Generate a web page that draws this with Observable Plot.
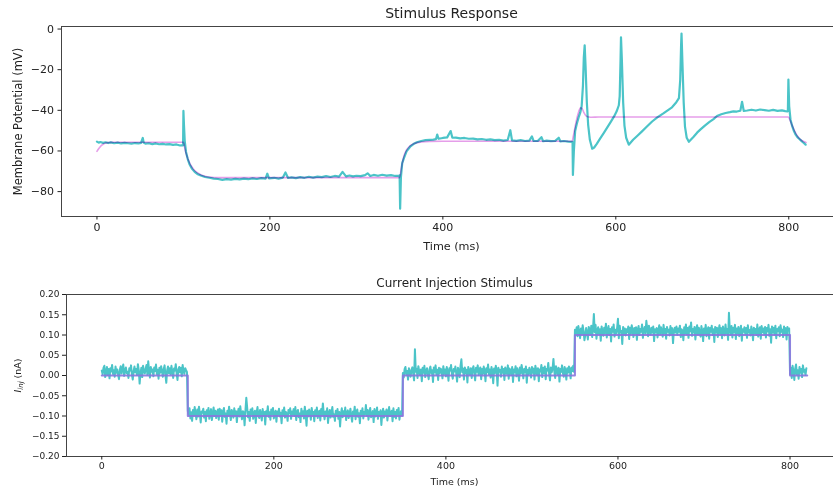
<!DOCTYPE html>
<html><head><meta charset="utf-8">
<script src="https://cdn.jsdelivr.net/npm/d3@7"></script>
<script src="https://cdn.jsdelivr.net/npm/@observablehq/plot@0.6"></script>
<style>
html,body{margin:0;padding:0;background:#fff;overflow:hidden;width:833px;height:494px;}
#wrap{position:relative;width:833px;height:494px;overflow:hidden;background:#fff;}
#top{position:absolute;left:0;top:0;width:850px;height:260px;}
#bot{position:absolute;left:0;top:260px;width:850px;height:234px;}
svg{max-width:none !important;}
</style></head>
<body><div id="wrap"><div id="top"></div><div id="bot"></div></div>
<script>
// ---------- Recorded membrane potential (ms, mV), by epoch ----------
const tRec1 = [0,2,4,7,10,13,16,20,24,28,32,36,40,44,48,51,53,54,56,60,64,68,72,76,80,84,88,92,96,99];
const vRec1 = [-55.4,-55.9,-55.6,-56.0,-55.7,-56.1,-55.8,-56.2,-55.9,-56.3,-56.0,-56.2,-56.4,-56.1,-56.3,-56.0,-53.6,-55.9,-56.4,-56.2,-56.6,-56.3,-56.7,-56.5,-56.8,-56.6,-57.0,-56.8,-57.3,-57.1];
const tRec2 = [99.6,100,100.6,101.5,103,105,107,110,113,116,120,125,130,135];
const vRec2 = [-57.2,-40.3,-47.0,-55.0,-60.5,-64.0,-66.5,-68.8,-70.3,-71.3,-72.1,-72.8,-73.2,-73.6];
const tRec3 = [140,145,150,155,160,165,170,175,180,185,190,195,197,199,205,210,215,218,221,225,230,235,240,245,250,255,260,265,270,275,280,284,288,292,296,300,305,310,313,316,320,325,330,335,340,345,349.5];
const vRec3 = [-73.8,-74.2,-73.9,-74.1,-73.7,-74.0,-73.6,-73.9,-73.5,-73.8,-73.4,-73.6,-71.2,-73.5,-73.2,-73.6,-73.1,-70.6,-73.3,-73.0,-73.4,-72.9,-73.2,-72.7,-73.1,-72.6,-72.9,-72.4,-72.8,-72.3,-72.6,-70.3,-72.5,-72.1,-72.5,-72.2,-72.4,-71.9,-71.0,-72.3,-71.8,-72.2,-71.7,-72.1,-71.9,-72.3,-72.1];
const tRec4 = [350,350.6,351.5,353,355,358,362.6,366,370,375,380,385,389,392,393.5,395,400,405,409,411,415,420,425,430,435,440,445,450,455,460,465,470,475,478,480,485,490,495,500,503,505,510,514,516,520,525,530,534,536,540,545,549.5];
const vRec4 = [-72.0,-88.4,-73.0,-66.0,-63.5,-60.2,-57.7,-56.6,-55.7,-55.1,-54.7,-54.5,-54.4,-54.2,-51.9,-54.0,-53.6,-53.3,-50.2,-53.5,-53.4,-53.8,-53.6,-54.0,-53.9,-54.3,-54.1,-54.5,-54.3,-54.7,-54.5,-54.9,-54.6,-49.8,-54.8,-55.0,-54.7,-55.1,-54.9,-52.8,-55.1,-55.0,-53.2,-55.2,-54.9,-55.2,-55.0,-53.5,-55.3,-55.1,-55.4,-55.5];
const tRec5 = [550,550.4,551.5,553,555,557,559,560.5,562,563,564,565,566.5,568,570,572.7,575,578,582,586,590,594,598,601,603.5,604.5,605.5,606,607,608.5,610,612,615,620,625,630,636,642,648,655,660,665,670,673,674.5,675.5,676,677,678.5,680,682,684.5,690,694,698,703,708,713,717,722,727,732,736,740,744,746,748,752,757,762,767,772,777,782,787,792,796,798.5];
const vRec5 = [-55.6,-71.8,-60.0,-50.2,-46.5,-43.5,-41.0,-38.0,-28.0,-14.0,-8.0,-18.0,-36.0,-47.0,-54.5,-58.9,-58.3,-56.5,-53.8,-51.2,-48.5,-45.8,-43.0,-40.5,-37.5,-33.0,-15.0,-4.1,-15.0,-36.0,-47.5,-53.5,-56.9,-54.5,-52.5,-50.5,-48.0,-45.5,-43.5,-41.5,-40.0,-38.5,-36.0,-34.0,-25.0,-8.0,-2.2,-16.0,-36.0,-48.0,-53.5,-55.5,-53.0,-51.0,-49.4,-47.5,-45.8,-44.3,-42.8,-41.9,-41.3,-40.9,-40.5,-40.6,-40.2,-35.8,-40.3,-40.1,-39.7,-40.1,-39.6,-39.9,-40.2,-39.8,-40.3,-40.0,-40.4,-40.5];
const tRec6 = [799,799.6,800.5,802,804,806,808,810,812,814,816,818,819.5];
const vRec6 = [-40.3,-24.9,-38.0,-44.5,-47.8,-50.2,-52.0,-53.2,-54.0,-54.8,-55.6,-56.3,-56.9];

// ---------- Model membrane potential (ms, mV) ----------
const tModel = [0,2,4,6,8,10,12,15,20,100,102,104,106,108,110,113,116,120,125,130,140,350,352,355,358,362,368,375,385,400,549.5,551,553,555,557,559,561,563,565,567,569,572,580,799.5,802,804,806,808,810,812,814,816,818,820];
const vModel = [-60.2,-58.9,-57.8,-57.0,-56.5,-56.1,-55.9,-55.8,-55.7,-55.7,-59.5,-62.5,-64.8,-66.6,-68.0,-69.6,-70.7,-71.7,-72.4,-72.8,-73.1,-73.1,-68.5,-62.5,-59.5,-57.5,-56.2,-55.6,-55.3,-55.2,-55.2,-52.5,-48,-44,-40.8,-38.7,-39.2,-41,-42.4,-43.1,-43.3,-43.4,-43.3,-43.3,-45.5,-47.5,-49.5,-51.2,-52.6,-53.7,-54.5,-55.1,-55.5,-55.8];

// ---------- Stimulus: command steps (ms, nA) ----------
const stimT = [0,100,350,550,800,820];
const stimI = [0,-0.1,0,0.1,0,0];

// ---------- Injected (noisy) current, one sample per ms from 0 to 819 ms (nA) ----------
const noiseStepMs = 1;
const iNoisy = [
 // 0-99 ms
 .012,.003,.019,.024,-.004,.008,.021,.001,.016,-.007,
 .018,.010,.026,.004,.013,-.003,.022,.007,.015,.002,
 -.009,.014,.023,.005,.017,.027,-.001,.011,.020,.006,
 .009,-.006,.018,.012,.025,.003,-.010,.011,.022,.008,
 .016,.001,.028,.013,-.020,.006,.019,-.004,.024,.010,
 .005,.017,.026,.002,.035,.012,-.005,.021,.009,.015,
 -.002,.020,.011,.027,.004,.014,-.008,.019,.007,.023,
 .010,-.003,.016,.025,.001,-.018,.013,.022,.006,.018,
 .003,.024,.009,-.006,.017,.012,.028,.005,-.011,.015,
 .021,.008,.019,-.002,.026,.011,.004,.018,.013,.009,
 // 100-349 ms
 -.088,-.097,-.081,-.106,-.091,-.112,-.085,-.099,-.078,-.094,
 -.108,-.084,-.101,-.077,-.095,-.116,-.089,-.092,-.082,-.104,
 -.090,-.113,-.086,-.098,-.080,-.107,-.093,-.083,-.110,-.095,
 -.079,-.100,-.087,-.105,-.092,-.084,-.109,-.082,-.097,-.086,
 -.114,-.090,-.080,-.102,-.094,-.119,-.087,-.099,-.077,-.096,
 -.110,-.085,-.091,-.104,-.081,-.098,-.088,-.115,-.093,-.082,
 -.101,-.076,-.095,-.108,-.088,-.091,-.123,-.086,-.055,-.079,
 -.103,-.090,-.112,-.084,-.096,-.081,-.107,-.093,-.087,-.117,
 -.092,-.078,-.099,-.105,-.085,-.094,-.111,-.083,-.098,-.090,
 -.121,-.088,-.096,-.076,-.102,-.091,-.109,-.084,-.095,-.080,
 -.106,-.093,-.087,-.114,-.089,-.097,-.082,-.101,-.092,-.118,
 -.086,-.098,-.079,-.104,-.090,-.095,-.112,-.085,-.093,-.081,
 -.107,-.089,-.096,-.083,-.100,-.078,-.110,-.091,-.085,-.103,
 -.094,-.115,-.082,-.099,-.088,-.106,-.077,-.096,-.124,-.087,
 -.101,-.084,-.093,-.109,-.080,-.097,-.090,-.113,-.086,-.099,
 -.079,-.105,-.092,-.087,-.111,-.083,-.098,-.069,-.094,-.108,
 -.089,-.100,-.081,-.117,-.093,-.085,-.104,-.091,-.078,-.102,
 -.096,-.112,-.087,-.099,-.083,-.107,-.090,-.126,-.094,-.081,
 -.103,-.088,-.097,-.079,-.110,-.092,-.086,-.105,-.095,-.082,
 -.100,-.114,-.089,-.096,-.077,-.108,-.091,-.084,-.102,-.093,
 -.118,-.087,-.098,-.081,-.106,-.090,-.095,-.073,-.099,-.085,
 -.109,-.092,-.080,-.103,-.096,-.088,-.115,-.083,-.101,-.094,
 -.079,-.107,-.090,-.098,-.086,-.122,-.093,-.082,-.104,-.089,
 -.097,-.084,-.111,-.092,-.078,-.100,-.095,-.087,-.113,-.081,
 -.102,-.090,-.106,-.085,-.096,-.080,-.109,-.093,-.088,-.099,
 // 350-549 ms
 .006,-.005,.016,.021,.002,.011,-.010,.018,.008,-.003,
 .014,.020,.004,-.012,.065,.009,.017,-.006,.023,.010,
 .001,.015,-.014,.019,.007,.024,-.004,.012,.018,.003,
 -.009,.016,.022,.005,.013,-.016,.020,.008,.025,.002,
 .014,-.011,.019,.006,.017,.011,-.007,.023,.004,.015,
 -.002,.021,.009,-.013,.018,.012,.026,.003,-.008,.016,
 .010,.022,.005,-.015,.019,.013,-.004,.024,.040,.008,
 .017,-.010,.020,.006,.014,-.017,.021,.011,.002,.018,
 -.006,.015,.023,.007,-.012,.019,.009,.025,.001,.013,
 .020,-.009,.016,.004,.022,.012,-.014,.018,.008,.027,
 .003,.015,-.005,.021,.010,-.019,.017,.006,.024,.012,
 -.025,.019,.009,.014,-.003,.022,.007,.016,-.011,.020,
 .011,.004,.025,-.008,.017,.013,.001,.021,-.016,.015,
 .008,.023,-.002,.018,.010,-.013,.020,.005,.026,.012,
 -.007,.016,.009,.022,-.018,.014,.003,.019,.011,-.005,
 .021,.007,.017,-.010,.024,.013,.002,.018,-.014,.015,
 .010,.026,-.004,.019,.006,.022,-.009,.016,.012,.031,
 .004,-.012,.020,.008,.017,.041,.011,-.006,.023,.014,
 .002,.019,-.015,.016,.009,.025,.006,-.003,.021,.013,
 -.010,.018,.007,.022,.015,-.007,.020,.011,.024,.009,
 // 550-799 ms
 .113,.104,.119,.097,.122,.108,.092,.116,.102,.124,
 .110,.087,.099,.117,.106,.089,.120,.113,.101,.123,
 .095,.116,.152,.107,.125,.091,.111,.119,.103,.114,
 .086,.121,.109,.098,.118,.105,.128,.094,.112,.122,
 .100,.115,.084,.119,.108,.126,.096,.113,.104,.117,
 .140,.092,.123,.106,.110,.078,.120,.101,.116,.099,
 .114,.107,.121,.090,.118,.103,.124,.111,.095,.117,
 .105,.119,.088,.113,.122,.100,.115,.108,.126,.093,
 .112,.120,.104,.135,.116,.097,.123,.109,.101,.118,
 .106,.121,.085,.114,.107,.117,.094,.112,.124,.102,
 .119,.110,.096,.125,.105,.115,.091,.120,.108,.113,
 .099,.122,.103,.117,.080,.110,.118,.106,.121,.100,
 .116,.108,.123,.095,.114,.111,.087,.119,.104,.126,
 .102,.117,.093,.121,.109,.131,.098,.115,.106,.120,
 .089,.113,.124,.101,.118,.107,.096,.122,.110,.085,
 .116,.104,.125,.097,.112,.119,.091,.117,.108,.123,
 .100,.114,.083,.120,.106,.118,.095,.111,.124,.103,
 .117,.092,.121,.109,.099,.126,.105,.115,.088,.155,
 .113,.101,.122,.094,.118,.107,.125,.090,.116,.104,
 .120,.097,.111,.123,.086,.114,.108,.119,.102,.117,
 .093,.124,.106,.112,.099,.121,.110,.087,.118,.105,
 .115,.100,.126,.096,.113,.119,.091,.122,.107,.116,
 .103,.120,.094,.117,.109,.125,.098,.114,.081,.121,
 .106,.118,.101,.123,.092,.115,.110,.119,.097,.124,
 .108,.113,.095,.121,.104,.117,.089,.120,.111,.116,
 // 800-819 ms
 .004,.019,-.006,.024,.010,-.011,.017,.027,.002,.013,
 -.008,.021,.007,.016,-.004,.025,.009,.014,.001,.018
];

// ---------- Axis ticks ----------
const timeTicks = [0,200,400,600,800];
const vTicks = [0,-20,-40,-60,-80];
const iTicks = [-0.20,-0.15,-0.10,-0.05,0,0.05,0.10,0.15,0.20];

// ---------- Build tables ----------
const tRec = [...tRec1,...tRec2,...tRec3,...tRec4,...tRec5,...tRec6];
const vRec = [...vRec1,...vRec2,...vRec3,...vRec4,...vRec5,...vRec6];
const recorded = tRec.map((t,i)=>({t, v: vRec[i]}));
const model = tModel.map((t,i)=>({t, v: vModel[i]}));
const stim = stimT.map((t,i)=>({t, i: stimI[i]}));
const noisy = iNoisy.map((v,k)=>({t: k*noiseStepMs, i: v}));

const font = "'DejaVu Sans', sans-serif";
const cyan = "#4bc4c8";
const pink = "#de86e4";
const ink = "#222";
const lab = {text: d => d, lineAnchor: "middle", textAnchor: "middle", fill: ink};

const topPlot = Plot.plot({
  width: 850, height: 260,
  marginLeft: 61, marginRight: 9, marginTop: 26, marginBottom: 44,
  style: {fontFamily: font, fontSize: "11px", color: ink, background: "white", maxWidth: "none", overflow: "visible"},
  x: {domain: [-41, 861]},
  y: {domain: [-92.25, 1.25]},
  marks: [
    Plot.line(recorded, {x: "t", y: "v", stroke: cyan, strokeWidth: 2.2, mixBlendMode: "multiply"}),
    Plot.line(model, {x: "t", y: "v", stroke: pink, strokeWidth: 1.6, strokeOpacity: 0.8, curve: "monotone-x", mixBlendMode: "multiply"}),
    Plot.frame({stroke: "#444"}),
    Plot.axisX({ticks: timeTicks, tickSize: 3.5, tickPadding: 3, tickFormat: d3.format("d"), label: null}),
    Plot.axisY({ticks: vTicks, tickSize: 3.5, tickPadding: 4, tickFormat: d3.format("d"), label: null}),
    Plot.text(["Time (ms)"], {...lab, frameAnchor: "bottom", dy: 30, fontSize: 11.2}),
    Plot.text(["Membrane Potential (mV)"], {...lab, frameAnchor: "left", rotate: -90, dx: -43.5, fontSize: 11.5}),
    Plot.text(["Stimulus Response"], {...lab, frameAnchor: "top", dy: -13, fontSize: 14})
  ]
});
document.getElementById("top").appendChild(topPlot);

const botPlot = Plot.plot({
  width: 850, height: 234,
  marginLeft: 66, marginRight: 8, marginTop: 34, marginBottom: 38,
  style: {fontFamily: font, fontSize: "9px", color: ink, background: "white", maxWidth: "none", overflow: "visible"},
  x: {domain: [-41, 861]},
  y: {domain: [-0.2, 0.2]},
  marks: [
    Plot.line(noisy, {x: "t", y: "i", stroke: cyan, strokeWidth: 2}),
    Plot.line(stim, {x: "t", y: "i", curve: "step-after", stroke: "#8a78de", strokeWidth: 2, strokeOpacity: 0.9}),
    Plot.frame({stroke: "#444"}),
    Plot.axisX({ticks: timeTicks, tickSize: 3.5, tickPadding: 2.5, tickFormat: d3.format("d"), fontSize: 9.5, label: null}),
    Plot.axisY({ticks: iTicks, tickSize: 4, tickPadding: 3, tickFormat: d3.format(".2f"), label: null}),
    Plot.text(["Time (ms)"], {...lab, frameAnchor: "bottom", dy: 25, fontSize: 9.5}),
    Plot.text(["Iinj (nA)"], {...lab, frameAnchor: "left", rotate: -90, dx: -49, fontSize: 9.5}),
    Plot.text(["Current Injection Stimulus"], {...lab, frameAnchor: "top", dy: -11, fontSize: 12})
  ]
});
document.getElementById("bot").appendChild(botPlot);

// Render the I_inj label with italic symbol and subscript
for (const el of botPlot.querySelectorAll("text")) {
  if (el.textContent === "Iinj (nA)") {
    el.innerHTML = '<tspan font-style="italic">I</tspan><tspan font-style="italic" font-size="7" dy="2">inj</tspan><tspan dy="-2"> (nA)</tspan>';
  }
}
</script></body></html>
